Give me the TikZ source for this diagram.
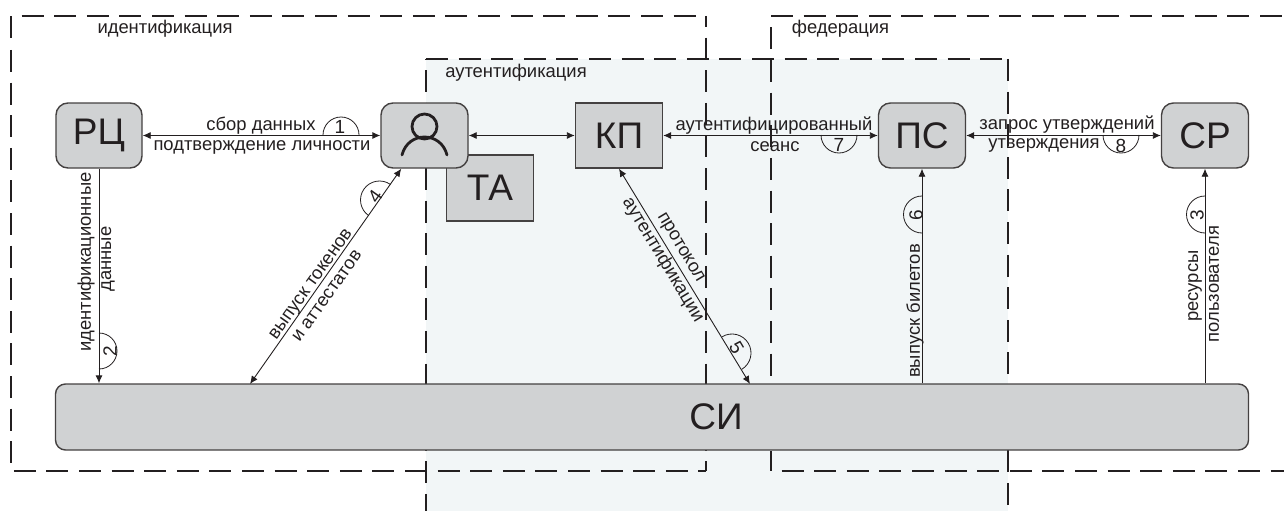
\documentclass[tikz,border=0pt]{standalone}
\usepackage{fontspec}
\setmainfont{Liberation Sans}
\usetikzlibrary{arrows.meta}
\definecolor{inkc}{HTML}{231F20}
\definecolor{boxc}{HTML}{D0D2D3}
\definecolor{zonec}{HTML}{F2F6F7}
\tikzset{
  zoneln/.style={inkc,line width=2.4pt,dash pattern=on 22pt off 10.6pt},
  conn/.style={inkc,line width=0.9pt,>={Latex[length=8pt,width=7pt]}},
  thinln/.style={inkc,line width=0.8pt},
  rbox/.style={draw=inkc!85,line width=1.4pt,fill=boxc,rounded corners=12pt,inner sep=0pt,font=\fontsize{37}{40}\selectfont,text=inkc},
  sbox/.style={rbox,rounded corners=0pt},
  lbl/.style={inner sep=0pt,text=inkc,font=\fontsize{18.4}{20}\selectfont},
  num/.style={lbl,font=\fontsize{19}{20}\selectfont}
}
\begin{document}
\begin{tikzpicture}[x=1pt,y=-1pt]
  \useasboundingbox (0,0) rectangle (1284,511);
  \fill[zonec] (426,59) rectangle (1008,511);
  % zones
  \draw[zoneln] (11,38) -- (11,16) -- (706,16);
  \draw[zoneln] (11,50) -- (11,471) -- (706,471);
  \draw[zoneln,dash phase=11pt] (706,16) -- (706,471);
  \draw[zoneln] (771,27.5) -- (771,471);
  \draw[zoneln] (771,16) -- (1284,16);
  \draw[zoneln,dash phase=22pt] (771,471) -- (1284,471);
  \draw[zoneln] (426,59) -- (1008,59);
  \draw[zoneln,dash phase=21.5pt] (426,59) -- (426,511);
  \draw[zoneln] (1008,59) -- (1008,505);
  % boxes
  \node[rbox,minimum width=86pt,minimum height=65pt] (rc) at (99,135.5) {РЦ};
  \node[sbox,minimum width=87pt,minimum height=66pt] (ta) at (490,188) {ТА};
  \node[rbox,minimum width=87pt,minimum height=65pt] (user) at (424.5,135.5) {};
  \node[sbox,minimum width=87pt,minimum height=65pt] (kp) at (619,135.5) {КП};
  \node[rbox,minimum width=87pt,minimum height=65pt] (ps) at (922,135.5) {ПС};
  \node[rbox,minimum width=87pt,minimum height=65pt] (sr) at (1205,135.5) {СР};
  \node[rbox,rounded corners=10pt,minimum width=1193pt,minimum height=66pt] (si) at (652,417) {};
  \node[lbl,font=\fontsize{37}{40}\selectfont] (sit) at (716,417) {СИ};
  \coordinate (si4) at (250,384);
  \coordinate (si5) at (750,384);
  % person
  \draw[inkc,line width=2.8pt] (424.5,126.5) circle (12.5);
  \draw[inkc,line width=2.8pt,line cap=round] (402,155) .. controls (408,131) and (441,131) .. (447,155);
  % connectors
  \draw[conn,<->] (rc) -- (user);
  \draw[conn,<->] (user) -- (kp);
  \draw[conn,<->] (kp) -- (ps);
  \draw[conn,<->] (ps) -- (sr);
  \draw[conn,->] (rc) -- (rc |- si.north);
  \draw[conn,<-] (ps) -- (ps |- si.north);
  \draw[conn,<-] (sr) -- (sr |- si.north);
  \draw[conn,<->] (user) -- (si4);
  \draw[conn,<->] (kp.south) -- (si5);
  % step marks
  \draw[thinln] (323,135) arc (180:360:18);
  \node[num] (n1) at (340,127) {1};
  \draw[thinln] (99,333) arc (270:450:18);
  \node[num,rotate=90] (n2) at (110,351) {2};
  \draw[thinln] (1205,196) arc (270:90:18.5);
  \node[num,rotate=90] (n3) at (1197,215) {3};
  \draw[thinln,shift={(379.5,200)},rotate=54.5] (-19,0) arc (180:360:19);
  \node[num,rotate=54.5] (n4) at (375,196) {4};
  \draw[thinln,shift={(732,353)},rotate=-59] (-19,0) arc (180:360:19);
  \node[num,rotate=-59] (n5) at (736.5,348) {5};
  \draw[thinln] (922,196) arc (270:90:18.5);
  \node[num,rotate=90] (n6) at (916,215) {6};
  \draw[thinln] (821,135) arc (180:0:18);
  \node[num] (n7) at (839,144.5) {7};
  \draw[thinln] (1103,135) arc (180:0:18);
  \node[num] (n8) at (1121,145.5) {8};
  % labels
  \node[lbl] (zid) at (165,29) {идентификация};
  \node[lbl] (zau) at (516,73) {аутентификация};
  \node[lbl] (zfe) at (840.5,29) {федерация};
  \node[lbl] (t1a) at (261,125.5) {сбор данных};
  \node[lbl] (t1b) at (262,147) {подтверждение личности};
  \node[lbl,rotate=90] (t2a) at (86,262) {идентификационные};
  \node[lbl,rotate=90] (t2b) at (108,259) {данные};
  \node[lbl,rotate=54.5] (t4a) at (312,285) {выпуск токенов};
  \node[lbl,rotate=54.5] (t4b) at (327,296) {и аттестатов};
  \node[lbl,rotate=-59] (t5a) at (680,248) {протокол};
  \node[lbl,rotate=-59] (t5b) at (663,260) {аутентификации};
  \node[lbl,rotate=90] (t6) at (915,311) {выпуск билетов};
  \node[lbl,rotate=90] (t3a) at (1195,286) {ресурсы};
  \node[lbl,rotate=90] (t3b) at (1214,284) {пользователя};
  \node[lbl] (t7a) at (774,126) {аутентифицированный};
  \node[lbl] (t7b) at (775,147) {сеанс};
  \node[lbl] (t8a) at (1067,125) {запрос утверждений};
  \node[lbl] (t8b) at (1044,145) {утверждения};
\end{tikzpicture}
\end{document}
